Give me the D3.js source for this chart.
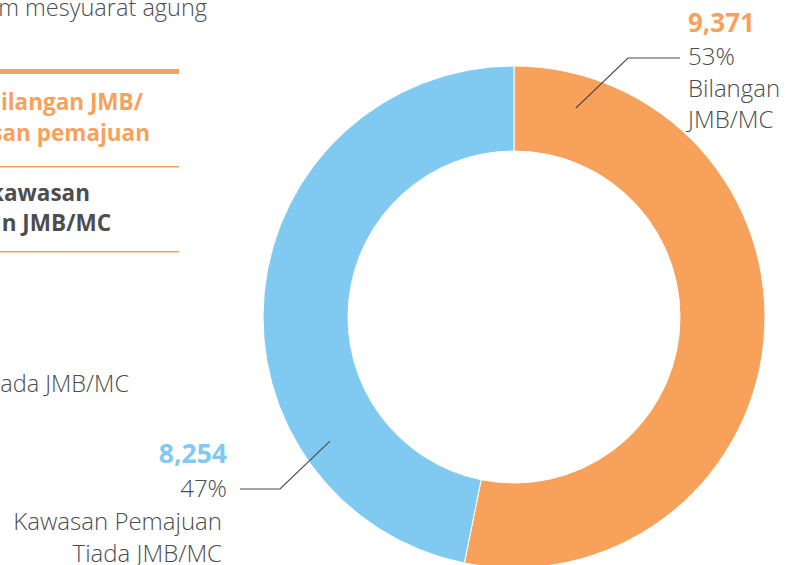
<!DOCTYPE html>
<html>
<head>
<meta charset="utf-8">
<script src="https://cdn.jsdelivr.net/npm/d3@7"></script>
<style>
  html, body { margin: 0; padding: 0; background: #fff; }
  svg { display: block; font-family: "Open Sans", sans-serif; }
</style>
</head>
<body>
<div id="chart"></div>
<script>
// Donut data
const categories = ["Bilangan JMB/MC", "Kawasan Pemajuan Tiada JMB/MC"];
const labelLines = [["Bilangan", "JMB/MC"], ["Kawasan Pemajuan", "Tiada JMB/MC"]];
const values = [9371, 8254];
const colors = ["#F8A15B", "#80C9F0"];

// Cropped legend text on the left side of the page
const legendTop = ["m mesyuarat agung"];
const legendOrange = ["ilangan JMB/", "san pemajuan"];
const legendDark = ["kawasan", "n JMB/MC"];
const legendGrey = ["ada JMB/MC"];

const width = 785, height = 565;
const cx = 514, cy = 317;
const outerR = 251, innerR = 166;
const textColor = "#4d4d4f";

const svg = d3.select("#chart").append("svg")
    .attr("width", width)
    .attr("height", height);

// Left legend fragments
svg.append("text")
    .attr("x", 207).attr("y", 16)
    .attr("text-anchor", "end")
    .attr("fill", textColor)
    .attr("font-size", 23.5).attr("font-weight", 300)
    .text(legendTop[0]);

svg.append("rect").attr("x", 0).attr("y", 69).attr("width", 179).attr("height", 5).attr("fill", colors[0]);
svg.append("rect").attr("x", 0).attr("y", 166).attr("width", 179).attr("height", 1.5).attr("fill", colors[0]);
svg.append("rect").attr("x", 0).attr("y", 251).attr("width", 179).attr("height", 1.5).attr("fill", colors[0]);

svg.append("g").selectAll("text")
    .data(legendOrange)
    .join("text")
    .attr("x", (d, i) => i === 0 ? 143 : 150)
    .attr("y", (d, i) => 110 + i * 31)
    .attr("text-anchor", "end")
    .attr("fill", colors[0])
    .attr("font-size", 22.5).attr("font-weight", 700)
    .text(d => d);

svg.append("g").selectAll("text")
    .data(legendDark)
    .join("text")
    .attr("x", (d, i) => i === 0 ? 90 : 111)
    .attr("y", (d, i) => 201 + i * 30)
    .attr("text-anchor", "end")
    .attr("fill", textColor)
    .attr("font-size", 22.5).attr("font-weight", 700)
    .text(d => d);

svg.append("text")
    .attr("x", 129).attr("y", 392)
    .attr("text-anchor", "end")
    .attr("fill", textColor)
    .attr("font-size", 23.5).attr("font-weight", 300)
    .text(legendGrey[0]);

// Donut
const pie = d3.pie().sort(null).value(d => d)(values);
const arc = d3.arc().innerRadius(innerR).outerRadius(outerR);

svg.append("g")
    .attr("transform", `translate(${cx},${cy})`)
    .selectAll("path")
    .data(pie)
    .join("path")
    .attr("d", arc)
    .attr("fill", (d, i) => colors[i])
    .attr("stroke", "#fff")
    .attr("stroke-width", 1);

const total = d3.sum(values);
const fmtNum = d3.format(",");
const fmtPct = d3.format(".0%");

// Annotation leader lines: anchor angle/radius on the ring, elbow, end
const anchors = [
    { angle: 16.5, r: 218, elbow: [628, 58], end: [680, 58] },
    { angle: 236, r: 222, elbow: [280, 489], end: [240, 489] }
];
const pointAt = (a, r) => [cx + r * Math.sin(a * Math.PI / 180), cy - r * Math.cos(a * Math.PI / 180)];

svg.append("g").selectAll("polyline")
    .data(anchors)
    .join("polyline")
    .attr("points", d => [pointAt(d.angle, d.r), d.elbow, d.end].map(p => p.join(",")).join(" "))
    .attr("fill", "none")
    .attr("stroke", textColor)
    .attr("stroke-width", 1.2);

// Orange label (left aligned, right of donut)
const orange = svg.append("g").attr("transform", "translate(688,0)");
orange.append("text").attr("y", 32)
    .attr("fill", colors[0]).attr("font-size", 26).attr("font-weight", 700)
    .text(fmtNum(values[0]));
orange.append("text").attr("y", 65)
    .attr("fill", textColor).attr("font-size", 24).attr("font-weight", 300)
    .text(fmtPct(values[0] / total));
orange.selectAll("text.cat")
    .data(labelLines[0])
    .join("text").attr("class", "cat")
    .attr("y", (d, i) => 97 + i * 31)
    .attr("fill", textColor).attr("font-size", 24).attr("font-weight", 300)
    .text(d => d);

// Blue label (right aligned, left of donut)
const blue = svg.append("g").attr("text-anchor", "end");
blue.append("text").attr("x", 227).attr("y", 463)
    .attr("fill", colors[1]).attr("font-size", 26.5).attr("font-weight", 700)
    .text(fmtNum(values[1]));
blue.append("text").attr("x", 227).attr("y", 497)
    .attr("fill", textColor).attr("font-size", 24).attr("font-weight", 300)
    .text(fmtPct(values[1] / total));
blue.selectAll("text.cat")
    .data(labelLines[1])
    .join("text").attr("class", "cat")
    .attr("x", 222)
    .attr("y", (d, i) => 530 + i * 32)
    .attr("fill", textColor).attr("font-size", 24).attr("font-weight", 300)
    .text(d => d);
</script>
</body>
</html>
